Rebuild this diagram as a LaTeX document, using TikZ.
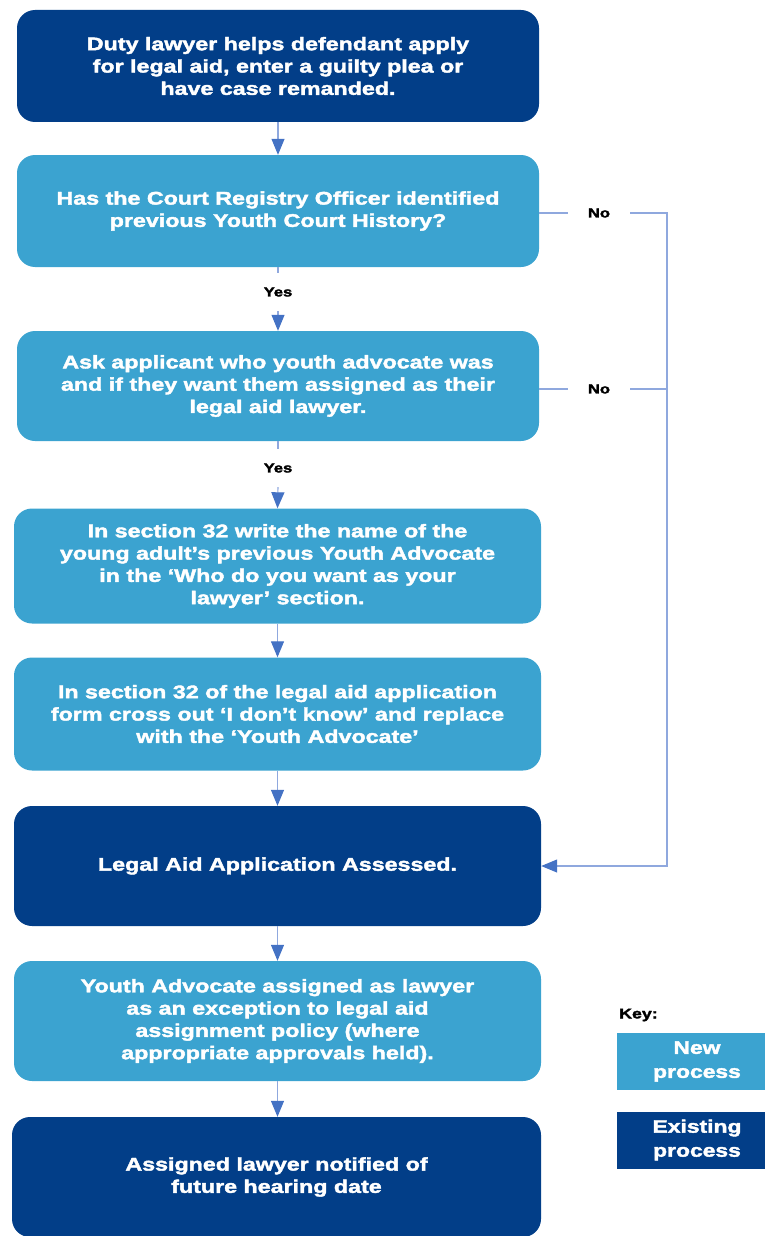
\documentclass[tikz,border=0pt]{standalone}
\usepackage{fontspec}
\setmainfont{Liberation Sans}[FakeStretch=1.27, BoldFeatures={FakeBold=2.2}]
\usetikzlibrary{arrows.meta}
\definecolor{darkblue}{RGB}{2,62,136}
\definecolor{lightblue}{RGB}{59,163,208}
\definecolor{linecol}{RGB}{143,168,222}
\definecolor{tipcol}{RGB}{68,114,196}
\tikzset{
  stepbox/.style={rounded corners=18pt, text=white, align=center,
    font=\bfseries\fontsize{18.3}{22.3}\selectfont, inner sep=0pt},
  newbox/.style={stepbox, fill=lightblue},
  oldbox/.style={stepbox, fill=darkblue},
  keybox/.style={text=white, align=center, inner sep=0pt,
    font=\bfseries\fontsize{18}{24}\selectfont, minimum width=160pt, minimum height=57pt},
  flow/.style={draw=linecol, line width=1.1pt},
  tip/.style={-{Triangle[length=16pt, width=13pt, color=tipcol]}},
  branch/.style={font=\bfseries\fontsize{13}{15}\selectfont, text=black, inner sep=0pt}
}
\begin{document}
\begin{tikzpicture}[x=1pt, y=-1pt]
\useasboundingbox (0,0) rectangle (765,1236);
\clip (0,0) rectangle (765,1236);

% process steps
\node[oldbox, minimum width=522pt, minimum height=112pt] (A) at (278,66)
  {Duty lawyer helps defendant apply\\for legal aid, enter a guilty plea or\\have case remanded.};
\node[newbox, minimum width=522pt, minimum height=112pt] (B) at (278,211)
  {Has the Court Registry Officer identified\\previous Youth Court History?};
\node[newbox, minimum width=522pt, minimum height=110pt] (C) at (278,386)
  {Ask applicant who youth advocate was\\and if they want them assigned as their\\legal aid lawyer.};
\node[newbox, minimum width=527pt, minimum height=115pt] (D) at (277.5,566)
  {In section 32 write the name of the\\young adult’s previous Youth Advocate\\in the ‘Who do you want as your\\lawyer’ section.};
\node[newbox, minimum width=527pt, minimum height=113pt] (E) at (277.5,714)
  {In section 32 of the legal aid application\\form cross out ‘I don’t know’ and replace\\with the ‘Youth Advocate’};
\node[oldbox, minimum width=527pt, minimum height=120pt] (F) at (277.5,866)
  {Legal Aid Application Assessed.};
\node[newbox, minimum width=527pt, minimum height=120pt] (G) at (277.5,1021)
  {Youth Advocate assigned as lawyer\\as an exception to legal aid\\assignment policy (where\\appropriate approvals held).};
\node[oldbox, minimum width=529pt, minimum height=120pt] (H) at (276.5,1177)
  {Assigned lawyer notified of\\future hearing date};

% branch labels
\node[branch, minimum height=38pt] (y1) at (278,292) {Yes};
\node[branch, minimum height=38pt] (y2) at (278,468) {Yes};
\node[branch, minimum width=62pt] (n1) at (599,213) {No};
\node[branch, minimum width=62pt] (n2) at (599,389) {No};
\coordinate (rt) at (667,213);

% connectors
\draw[flow, tip] (A.south) -- (B.north);
\draw[flow] (B.south) -- (y1.north);
\draw[flow, tip] (y1.south) -- (C.north);
\draw[flow] (C.south) -- (y2.north);
\draw[flow, tip] (y2.south) -- (D.north);
\draw[flow, tip] (D.south) -- (E.north);
\draw[flow, tip] (E.south) -- (F.north);
\draw[flow, tip] (F.south) -- (G.north);
\draw[flow, tip] (G.south) -- (G.south |- H.north);

\draw[flow] (B.east |- n1) -- (n1.west);
\draw[flow] (C.east |- n2) -- (n2.west);
\draw[flow] (n2.east) -- (n2.east -| rt);
\draw[flow, tip] (n1.east) -- (rt) |- (F.east);

% key
\node[font=\bfseries\fontsize{14}{18}\selectfont, anchor=west, inner sep=0pt] (key) at (619,1015) {Key:};
\node[keybox, fill=lightblue] (knew) at (697,1061.5) {New\\process};
\node[keybox, fill=darkblue] (kold) at (697,1140) {Existing\\process};
\end{tikzpicture}
\end{document}
